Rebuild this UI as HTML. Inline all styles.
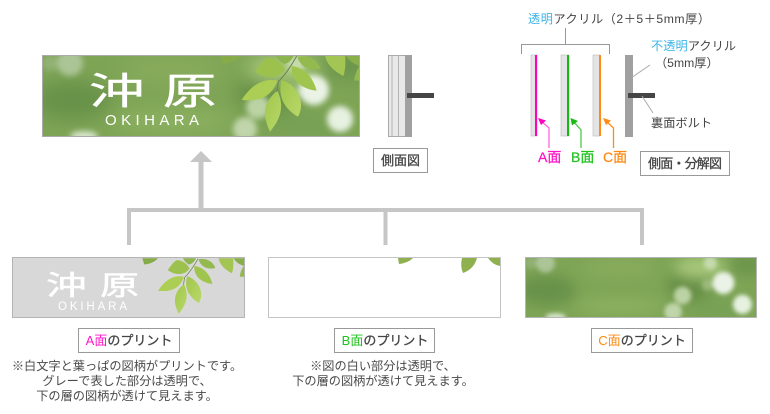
<!DOCTYPE html>
<html lang="ja"><head><meta charset="utf-8"><title>OKIHARA</title>
<style>
html,body{margin:0;padding:0;background:#fff;width:770px;height:414px;overflow:hidden}
svg{display:block}
text{font-family:"Liberation Sans","Noto Sans CJK JP",sans-serif;fill:#444;font-size:12.2px}
.lb{font-size:13px;stroke:#444;stroke-width:.3px;text-anchor:middle}
.n{text-anchor:middle;fill:#4a4a4a}
.logo{font-family:"Noto Sans CJK JP",sans-serif;fill:#fff;font-weight:400;stroke:#fff;stroke-width:.5px}
.ok{font-family:"Liberation Sans",sans-serif;fill:#fff;font-size:15px}
</style></head><body>
<svg width="770" height="414" viewBox="0 0 770 414" xmlns="http://www.w3.org/2000/svg">
<defs>
<filter id="b8" x="-30%" y="-30%" width="160%" height="160%"><feGaussianBlur stdDeviation="9"/></filter>
<filter id="b2" x="-30%" y="-30%" width="160%" height="160%"><feGaussianBlur stdDeviation="3"/></filter>
<filter id="b0" x="-5%" y="-5%" width="110%" height="110%"><feGaussianBlur stdDeviation=".5"/></filter>
<linearGradient id="lf" x1="0" y1="0" x2="1" y2="1"><stop offset="0" stop-color="#a0c64c"/><stop offset="1" stop-color="#b9d868"/></linearGradient>
<symbol id="bg" viewBox="0 0 318 81" preserveAspectRatio="none">
<rect width="318" height="81" fill="#7ea455"/>
<g filter="url(#b8)">
<ellipse cx="30" cy="45" rx="40" ry="20" fill="#68924a"/>
<ellipse cx="130" cy="15" rx="50" ry="14" fill="#87ab5c"/>
<ellipse cx="130" cy="66" rx="60" ry="12" fill="#8bb060"/>
<ellipse cx="225" cy="38" rx="30" ry="22" fill="#668f45"/>
<ellipse cx="240" cy="14" rx="35" ry="14" fill="#a8c97c"/>
<ellipse cx="305" cy="10" rx="25" ry="14" fill="#6a944c"/>
<ellipse cx="265" cy="70" rx="40" ry="12" fill="#76a054"/>
</g>
<g filter="url(#b2)">
<circle cx="28" cy="8" r="13" fill="#b6cda6" opacity=".8"/>
<circle cx="8" cy="8" r="8" fill="#a6c094" opacity=".5"/>
<circle cx="272" cy="35" r="15" fill="#eaf3e6"/>
<circle cx="254" cy="8" r="9" fill="#d0e2bc" opacity=".8"/>
<circle cx="298" cy="64" r="13" fill="#e6f1e0"/>
<circle cx="203" cy="74" r="12" fill="#c6dab4" opacity=".9"/>
<circle cx="216" cy="52" r="12" fill="#c4d9ae" opacity=".9"/>
<circle cx="250" cy="38" r="8" fill="#bcd6a2" opacity=".5"/>
<ellipse cx="42" cy="81" rx="14" ry="5" fill="#d8e6cc"/>
</g>
</symbol>
<symbol id="lv" viewBox="0 0 318 81" preserveAspectRatio="none">
<g transform="translate(-42 -15) scale(.33333)" filter="url(#b0)">
<path d="M660 46H725C710 62 690 70 668 72Z" fill="#86ab4a"/>
<path d="M828 46H882C875 60 865 70 852 72C840 65 832 55 828 46Z" fill="#8db550"/>
<path d="M892 50C920 45 950 55 962 86C930 95 900 80 892 50Z" fill="#92ba50"/>
<path d="M975 46H1035C1038 70 1035 95 1030 108C1005 95 980 75 975 46Z" fill="#a3c552"/>
<path d="M1037 46H1080V78C1060 72 1045 60 1037 46Z" fill="#89af4c"/>
<path d="M1063 122C1064 105 1070 90 1080 78V122Z" fill="#93b84e"/>
<path d="M855 88C845 65 815 50 800 55C785 65 775 82 765 95C785 110 830 125 855 88Z" fill="#9cc24e"/>
<path d="M875 78C905 82 935 100 950 152C915 150 870 125 875 78Z" fill="#a0c550"/>
<path d="M832 122C800 115 760 125 725 180C770 185 815 175 832 122Z" fill="#acce55"/>
<path d="M845 120C880 130 905 165 903 200C902 215 897 225 893 230C860 210 830 175 845 120Z" fill="url(#lf)"/>
<path d="M832 152C810 170 790 195 796 235C800 250 805 265 810 275C830 250 860 210 832 152Z" fill="url(#lf)"/>
<path d="M890 48C870 85 850 110 835 125L830 155" fill="none" stroke="#6f8050" stroke-width="3"/>
</g>
</symbol>
</defs>

<!-- top sign -->
<use href="#bg" x="42" y="55" width="318" height="81"/>
<use href="#lv" x="42" y="55" width="318" height="81"/>
<rect x="42.5" y="55.5" width="317" height="81" fill="none" stroke="#aaa"/>
<text class="logo" transform="translate(89 104) scale(1.35 .9)" style="font-size:41px">沖</text>
<text class="logo" transform="translate(163 104) scale(1.3 .9)" style="font-size:41px">原</text>
<text class="ok" x="105" y="125" textLength="94">OKIHARA</text>

<!-- arrow & connectors -->
<path d="M201 151L212 162H203.5V209H198.5V162H190Z" fill="#c6c6c6"/>
<path d="M129 245V210H642V245M385.5 210V245" fill="none" stroke="#c6c6c6" stroke-width="4"/>

<!-- side view -->
<rect x="388.5" y="55.5" width="17" height="81" fill="#e8e8e8" stroke="#aaa"/>
<path d="M392 55V136M398.5 55V136" stroke="#b4b4b4" fill="none"/>
<rect x="405" y="55" width="7" height="82" fill="#a0a0a0"/>
<rect x="407" y="93" width="27" height="5" fill="#454545"/>
<rect x="373.5" y="148.5" width="54" height="24" fill="#fff" stroke="#999"/>
<text class="lb" x="400.5" y="165">側面図</text>

<!-- exploded -->
<text x="528" y="23" textLength="182"><tspan fill="#3cb4e8">透明</tspan>アクリル（2＋5＋5mm厚）</text>
<path d="M565.5 28V44M521.5 54V44.5H609.5V54" fill="none" stroke="#999"/>
<rect x="531" y="55" width="6" height="81" fill="#e4e4e4" stroke="#bbb" stroke-width=".6"/>
<rect x="535" y="55" width="2" height="81" fill="#ff00c0"/>
<rect x="561" y="55" width="8" height="81" fill="#e4e4e4" stroke="#bbb" stroke-width=".6"/>
<rect x="567" y="55" width="2" height="81" fill="#14b914"/>
<rect x="593" y="55" width="7" height="81" fill="#e4e4e4" stroke="#bbb" stroke-width=".6"/>
<rect x="599" y="55" width="2" height="81" fill="#ff8a14"/>
<rect x="625" y="55" width="8" height="82" fill="#a0a0a0"/>
<rect x="628" y="93" width="27" height="5" fill="#454545"/>
<path d="M631 78L650 65M642 96L653 113" stroke="#aaa" fill="none"/>
<text x="651" y="50" textLength="85"><tspan fill="#3cb4e8">不透明</tspan>アクリル</text>
<text x="655" y="67">（5mm厚）</text>
<text x="651" y="127" textLength="61">裏面ボルト</text>

<path d="M549 148V128L541 121" fill="none" stroke="#ff66dd" stroke-width="1.3"/><path d="M538 118L546 120.5L541 125Z" fill="#ff00c0"/>
<path d="M581 148V130L573 121" fill="none" stroke="#4ccb4c" stroke-width="1.3"/><path d="M570.5 118L578 121L572 125.5Z" fill="#14b914"/>
<path d="M613.5 148V128L605 120" fill="none" stroke="#ff8a14" stroke-width="1.3"/><path d="M603 118L611 120.5L606 125Z" fill="#ff8a14"/>
<text x="538" y="162" style="font-size:14px;fill:#ff14c8;stroke:#ff14c8;stroke-width:.25px">A面</text>
<text x="571" y="162" style="font-size:14px;fill:#1ec31e;stroke:#1ec31e;stroke-width:.25px">B面</text>
<text x="603" y="162" style="font-size:14px;fill:#ff8a14;stroke:#ff8a14;stroke-width:.25px">C面</text>
<rect x="640.5" y="151.5" width="89" height="24" fill="#fff" stroke="#999"/>
<text class="lb" x="685" y="168" textLength="74">側面・分解図</text>

<!-- panel A -->
<rect x="12.5" y="257.5" width="232" height="60" fill="#d8d8d8" stroke="#b4b4b4"/>
<svg x="13" y="258" width="231" height="59" viewBox="0 0 318 81" preserveAspectRatio="none"><use href="#lv" width="318" height="81"/></svg>
<text class="logo" transform="translate(46 295) scale(1.35 .9)" style="font-size:30px">沖</text>
<text class="logo" transform="translate(100 295) scale(1.3 .9)" style="font-size:30px">原</text>
<text class="ok" x="58" y="310" style="font-size:11.5px" textLength="69">OKIHARA</text>
<rect x="78.5" y="328.5" width="101" height="24" fill="#fff" stroke="#999"/>
<text class="lb" x="129" y="345"><tspan fill="#ff14c8" stroke="none">A面</tspan>のプリント</text>
<text class="n" x="127" y="370">※白文字と葉っぱの図柄がプリントです。</text>
<text class="n" x="127" y="385">グレーで表した部分は透明で、</text>
<text class="n" x="127" y="400">下の層の図柄が透けて見えます。</text>

<!-- panel B -->
<rect x="268.5" y="257.5" width="232" height="60" fill="#fff" stroke="#c4c4c4"/>
<path d="M398 258H413Q408 263 399 264Z" fill="#8fb04e"/>
<path d="M462 258H477Q474 269 463 273Q460 266 462 258Z" fill="#8fb04e"/>
<path d="M488 258H500V266Q493 265 488 258Z" fill="#8fb04e"/>

<rect x="334.5" y="328.5" width="100" height="24" fill="#fff" stroke="#999"/>
<text class="lb" x="385" y="345"><tspan fill="#1ec31e" stroke="none">B面</tspan>のプリント</text>
<text class="n" x="383" y="370">※図の白い部分は透明で、</text>
<text class="n" x="383" y="385">下の層の図柄が透けて見えます。</text>

<!-- panel C -->
<use href="#bg" x="525" y="257" width="232" height="60"/>
<rect x="525.5" y="257.5" width="231" height="60" fill="none" stroke="#b4b4b4"/>
<rect x="591.5" y="328.5" width="101" height="24" fill="#fff" stroke="#999"/>
<text class="lb" x="642" y="345"><tspan fill="#ff8a14" stroke="none">C面</tspan>のプリント</text>
</svg>
</body></html>
